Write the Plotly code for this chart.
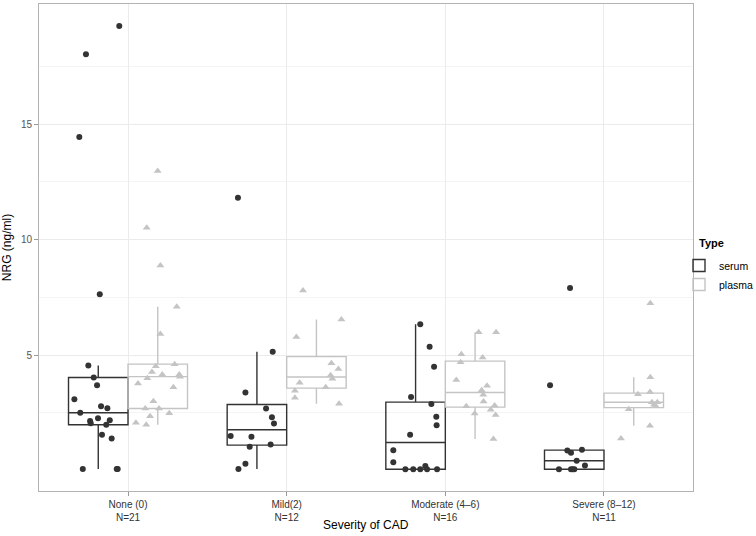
import numpy as np
import plotly.graph_objects as go

# ---------------- data ----------------
categories = ["None (0)", "Mild(2)", "Moderate (4–6)", "Severe (8–12)"]
counts = [21, 12, 16, 11]
types = ["serum", "plasma"]

# NRG values (ng/ml) and horizontal jitter (category units, relative to category centre)
serum_none = [19.25, 18.03, 14.44, 7.64, 4.55, 4.03, 3.70, 3.09, 2.79, 2.70, 2.51, 2.27, 2.15, 2.18,
              2.05, 1.99, 1.55, 1.39, 0.07, 0.07, 0.07]
serum_none_jit = [-0.055, -0.265, -0.307, -0.178, -0.250, -0.216, -0.195, -0.338, -0.170, -0.130, -0.301,
                  -0.189, -0.239, -0.115, -0.235, -0.137, -0.164, -0.103, -0.285, -0.071, -0.065]
plasma_none = [12.97, 10.51, 8.88, 7.10, 5.92, 4.61, 4.52, 4.27, 4.16, 4.16, 4.07, 4.00, 3.77, 3.61,
               3.01, 2.69, 2.69, 2.49, 2.36, 2.07, 1.99]
plasma_none_jit = [0.187, 0.118, 0.204, 0.307, 0.204, 0.294, 0.175, 0.151, 0.216, 0.323, 0.328, 0.122,
                   0.063, 0.286, 0.160, 0.109, 0.195, 0.260, 0.139, 0.050, 0.115]

serum_mild = [11.81, 5.15, 3.38, 2.69, 2.31, 2.04, 1.50, 1.47, 1.13, 1.03, 0.30, 0.07]
serum_mild_jit = [-0.307, -0.088, -0.260, -0.130, -0.093, -0.080, -0.353, -0.222, -0.101, -0.233, -0.260, -0.304]
plasma_mild = [7.80, 6.54, 5.79, 4.65, 4.40, 4.13, 3.98, 3.81, 3.61, 3.46, 3.16, 2.90]
plasma_mild_jit = [0.103, 0.345, 0.061, 0.282, 0.326, 0.277, 0.288, 0.082, 0.246, 0.052, 0.052, 0.330]

serum_moderate = [6.34, 5.36, 4.50, 3.19, 2.89, 2.33, 1.97, 1.56, 0.88, 0.36, 0.06, 0.06, 0.06, 0.20, 0.06, 0.06]
serum_moderate_jit = [-0.158, -0.099, -0.071, -0.216, -0.088, -0.057, -0.055, -0.222, -0.328, -0.328,
                      -0.252, -0.202, -0.158, -0.126, -0.115, -0.052]
plasma_moderate = [5.99, 5.99, 5.04, 4.90, 4.69, 3.92, 3.68, 3.48, 3.29, 2.99, 2.82, 2.79, 2.64, 2.48, 2.41, 1.37]
plasma_moderate_jit = [0.210, 0.320, 0.101, 0.235, 0.096, 0.069, 0.263, 0.229, 0.239, 0.241, 0.311, 0.132,
                       0.286, 0.185, 0.317, 0.303]

serum_severe = [7.91, 3.70, 0.91, 0.87, 0.78, 0.43, 0.22, 0.06, 0.06, 0.06, 0.06]
serum_severe_jit = [-0.214, -0.340, -0.139, -0.231, -0.208, -0.172, -0.120, -0.284, -0.208, -0.197, -0.187]
plasma_severe = [7.25, 4.04, 3.40, 3.31, 2.96, 2.96, 2.85, 2.80, 2.66, 1.94, 1.39]
plasma_severe_jit = [0.292, 0.292, 0.290, 0.214, 0.302, 0.336, 0.315, 0.326, 0.156, 0.290, 0.107]

y_ticks = [5, 10, 15]
y_minor = [2.5, 7.5, 12.5, 17.5]

serum_groups = [serum_none, serum_mild, serum_moderate, serum_severe]
serum_jits = [serum_none_jit, serum_mild_jit, serum_moderate_jit, serum_severe_jit]
plasma_groups = [plasma_none, plasma_mild, plasma_moderate, plasma_severe]
plasma_jits = [plasma_none_jit, plasma_mild_jit, plasma_moderate_jit, plasma_severe_jit]

# ---------------- styles ----------------
FONT = "Liberation Sans, Arial, sans-serif"
BOX_W = 0.375
styles = {
    "serum": dict(color="#333333", symbol="circle", size=6, dodge=-BOX_W / 2),
    "plasma": dict(color="#c4c4c4", symbol="triangle-up", size=7, dodge=BOX_W / 2),
}


def box_stats(vals):
    v = np.asarray(vals, dtype=float)
    q1, med, q3 = np.percentile(v, [25, 50, 75])
    iqr = q3 - q1
    lo = v[v >= q1 - 1.5 * iqr].min()
    hi = v[v <= q3 + 1.5 * iqr].max()
    return q1, med, q3, lo, hi


fig = go.Figure()

for t, groups in [("serum", serum_groups), ("plasma", plasma_groups)]:
    st = styles[t]
    stats = [box_stats(g) for g in groups]
    xs = [i + st["dodge"] for i in range(len(categories))]
    fig.add_trace(go.Box(
        x=xs,
        q1=[s[0] for s in stats], median=[s[1] for s in stats], q3=[s[2] for s in stats],
        lowerfence=[s[3] for s in stats], upperfence=[s[4] for s in stats],
        width=BOX_W, whiskerwidth=0, boxpoints=False,
        line=dict(color=st["color"], width=1.4),
        fillcolor="rgba(255,255,255,0)",
        name=t, legendgroup=t, showlegend=True, hoverinfo="skip",
    ))

for t, groups, jits in [("serum", serum_groups, serum_jits), ("plasma", plasma_groups, plasma_jits)]:
    st = styles[t]
    px, py = [], []
    for i, (g, j) in enumerate(zip(groups, jits)):
        px += [i + d for d in j]
        py += list(g)
    fig.add_trace(go.Scatter(
        x=px, y=py, mode="markers",
        marker=dict(color=st["color"], symbol=st["symbol"], size=st["size"], line=dict(width=0)),
        name=t, legendgroup=t, showlegend=False,
    ))

ticktext = [f"{c}<br>N={n}" for c, n in zip(categories, counts)]

fig.update_layout(
    width=756, height=536,
    margin=dict(l=39, r=63, t=4, b=45, autoexpand=False),
    paper_bgcolor="white", plot_bgcolor="white",
    boxmode="overlay",
    font=dict(family=FONT, color="#000000", size=10),
    xaxis=dict(
        range=[-0.561, 3.561], tickmode="array", tickvals=list(range(len(categories))), ticktext=ticktext,
        showgrid=True, gridcolor="#ebebeb", gridwidth=1, zeroline=False,
        showline=True, mirror=True, linecolor="#b3b3b3", linewidth=1,
        ticks="outside", ticklen=4, tickcolor="#999999",
        tickfont=dict(size=10, color="#333333", family=FONT),
        automargin=False,
    ),
    yaxis=dict(
        range=[-0.88, 20.2], tickmode="array", tickvals=y_ticks,
        showgrid=True, gridcolor="#ebebeb", gridwidth=1, zeroline=False,
        minor=dict(tickmode="array", tickvals=y_minor, showgrid=True,
                   gridcolor="#f4f4f4", gridwidth=1, ticks=""),
        showline=True, mirror=True, linecolor="#b3b3b3", linewidth=1,
        ticks="outside", ticklen=4, tickcolor="#999999",
        tickfont=dict(size=10, color="#555555", family=FONT),
        title=dict(text="NRG (ng/ml)", font=dict(size=12, family=FONT), standoff=6),
        automargin=False,
    ),
    legend=dict(
        x=(679 - 39) / 654, xanchor="left", y=(491 - 251) / 487, yanchor="top",
        bgcolor="rgba(0,0,0,0)", font=dict(size=10.5, family=FONT), tracegroupgap=0,
    ),
    annotations=[
        dict(text="<b>Type</b>", xref="paper", yref="paper", x=(697 - 39) / 654, y=(491 - 243) / 487,
             xanchor="left", yanchor="middle", showarrow=False, font=dict(size=11, family=FONT)),
        dict(text="Severity of CAD", xref="paper", yref="paper", x=0.5, y=(491 - 525) / 487,
             xanchor="center", yanchor="middle", showarrow=False, font=dict(size=12, family=FONT)),
    ],
)

fig.write_html("out.html", config={"displayModeBar": False},
               post_script="document.body.style.margin='0px';")
